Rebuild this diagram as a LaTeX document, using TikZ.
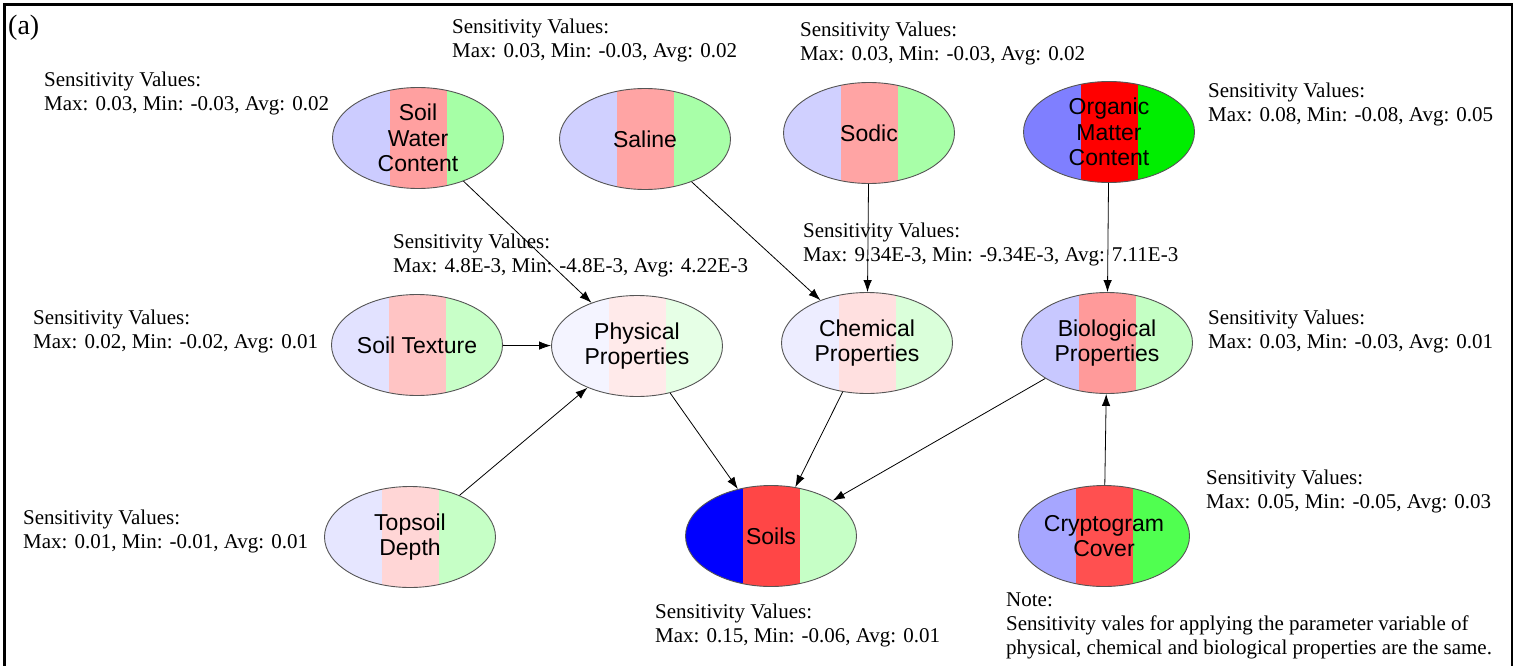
\documentclass[tikz,border=0pt]{standalone}
\usepackage{fontspec}
\setmainfont{Liberation Serif}
\newfontfamily\arialfont{Liberation Sans}
\usetikzlibrary{shapes.geometric,arrows.meta}

% stripe colours (left / middle / right) for each variable
\definecolor{swcB}{HTML}{CCCCFF}\definecolor{swcR}{HTML}{FFA0A0}\definecolor{swcG}{HTML}{A6FFA6}
\definecolor{salB}{HTML}{D0D0FF}\definecolor{salR}{HTML}{FFA4A4}\definecolor{salG}{HTML}{A8FFA8}
\definecolor{sodB}{HTML}{D0D0FF}\definecolor{sodR}{HTML}{FFA4A4}\definecolor{sodG}{HTML}{A8FFA8}
\definecolor{orgB}{HTML}{7F7FFF}\definecolor{orgR}{HTML}{FF0000}\definecolor{orgG}{HTML}{00EE00}
\definecolor{texB}{HTML}{E2E2FF}\definecolor{texR}{HTML}{FFC4C4}\definecolor{texG}{HTML}{C8FFC8}
\definecolor{phyB}{HTML}{F4F4FF}\definecolor{phyR}{HTML}{FFEAEA}\definecolor{phyG}{HTML}{E6FFE6}
\definecolor{cheB}{HTML}{EDEDFF}\definecolor{cheR}{HTML}{FFE0E0}\definecolor{cheG}{HTML}{DAFFDA}
\definecolor{bioB}{HTML}{C8C8FF}\definecolor{bioR}{HTML}{FF9A9A}\definecolor{bioG}{HTML}{C4FFC4}
\definecolor{topB}{HTML}{E6E6FF}\definecolor{topR}{HTML}{FFD6D6}\definecolor{topG}{HTML}{C6FFC6}
\definecolor{soiB}{HTML}{0000FF}\definecolor{soiR}{HTML}{FF4646}\definecolor{soiG}{HTML}{C6FFC6}
\definecolor{cryB}{HTML}{A6A6FF}\definecolor{cryR}{HTML}{FF5050}\definecolor{cryG}{HTML}{50FF50}
\definecolor{rim}{HTML}{555555}

\begin{document}
\begin{tikzpicture}[x=1pt,y=-1pt,
  bubble/.style={ellipse, draw=rim, line width=0.9pt, minimum width=171pt,
    minimum height=101pt, inner sep=0pt,
    path picture={
      \fill[#1B] (path picture bounding box.south west) rectangle ([xshift=-28.5pt]path picture bounding box.north);
      \fill[#1R] ([xshift=-28.5pt]path picture bounding box.south) rectangle ([xshift=28.5pt]path picture bounding box.north);
      \fill[#1G] ([xshift=28.5pt]path picture bounding box.south) rectangle (path picture bounding box.north east);
    }},
  nodetxt/.style={font=\arialfont\fontsize{23}{25.5}\selectfont, align=center, inner sep=0pt},
  sens/.style={font=\fontsize{21}{24}\selectfont, align=left, anchor=north west, inner sep=0pt},
  link/.style={draw=black, line width=0.8pt, -{Latex[length=12pt,width=8.5pt]}}
]
\useasboundingbox (0,0) rectangle (1520,666);

% frame
\draw[line width=2.6pt] (4.5,666) -- (4.5,4.5) -- (1512,4.5) -- (1512,666);
\node[font=\fontsize{28}{32}\selectfont, anchor=north west, inner sep=0pt] (tag) at (8,15) {(a)};

% variables
\node[bubble=swc, label={[nodetxt]center:Soil\\Water\\Content}] (swc) at (418,138) {};
\node[bubble=sal, label={[nodetxt]center:Saline}] (sal) at (645,139) {};
\node[bubble=sod, label={[nodetxt]center:Sodic}] (sod) at (869,133) {};
\node[bubble=org, label={[nodetxt]center:Organic\\Matter\\Content}] (org) at (1109,132) {};
\node[bubble=tex, label={[nodetxt]center:Soil Texture}] (tex) at (417,345) {};
\node[bubble=phy, label={[nodetxt]center:Physical\\Properties}] (phy) at (637,346) {};
\node[bubble=che, label={[nodetxt]center:Chemical\\Properties}] (che) at (867,343) {};
\node[bubble=bio, label={[nodetxt]center:Biological\\Properties}] (bio) at (1107,343) {};
\node[bubble=top, label={[nodetxt]center:Topsoil\\Depth}] (top) at (410,537) {};
\node[bubble=soi, label={[nodetxt]center:Soils}] (soi) at (771,536) {};
\node[bubble=cry, label={[nodetxt]center:Cryptogram\\Cover}] (cry) at (1104,536) {};

% dependencies
\draw[link] (swc) -- (phy);
\draw[link] (tex) -- (phy);
\draw[link] (top) -- (phy);
\draw[link] (sal) -- (che);
\draw[link] (sod) -- (che);
\draw[link] (org) -- (bio);
\draw[link] (cry) -- (bio);
\draw[link] (phy) -- (soi);
\draw[link] (che) -- (soi);
\draw[link] (bio) -- (soi);

% sensitivity annotations
\node[sens] (sSal) at (452,19) {Sensitivity Values:\\Max: 0.03, Min: -0.03, Avg: 0.02};
\node[sens] (sSod) at (800,22) {Sensitivity Values:\\Max: 0.03, Min: -0.03, Avg: 0.02};
\node[sens] (sSwc) at (44,72) {Sensitivity Values:\\Max: 0.03, Min: -0.03, Avg: 0.02};
\node[sens] (sOrg) at (1208,83) {Sensitivity Values:\\Max: 0.08, Min: -0.08, Avg: 0.05};
\node[sens] (sPhy) at (393,234) {Sensitivity Values:\\Max: 4.8E-3, Min: -4.8E-3, Avg: 4.22E-3};
\node[sens] (sChe) at (803,223) {Sensitivity Values:\\Max: 9.34E-3, Min: -9.34E-3, Avg: 7.11E-3};
\node[sens] (sTex) at (33,310) {Sensitivity Values:\\Max: 0.02, Min: -0.02, Avg: 0.01};
\node[sens] (sBio) at (1208,310) {Sensitivity Values:\\Max: 0.03, Min: -0.03, Avg: 0.01};
\node[sens] (sTop) at (23,510) {Sensitivity Values:\\Max: 0.01, Min: -0.01, Avg: 0.01};
\node[sens] (sCry) at (1206,470) {Sensitivity Values:\\Max: 0.05, Min: -0.05, Avg: 0.03};
\node[sens] (sSoi) at (655,604) {Sensitivity Values:\\Max: 0.15, Min: -0.06, Avg: 0.01};
\node[sens] (note) at (1006,593) {Note:\\Sensitivity vales for applying the parameter variable of\\physical, chemical and biological properties are the same.};
\end{tikzpicture}
\end{document}
